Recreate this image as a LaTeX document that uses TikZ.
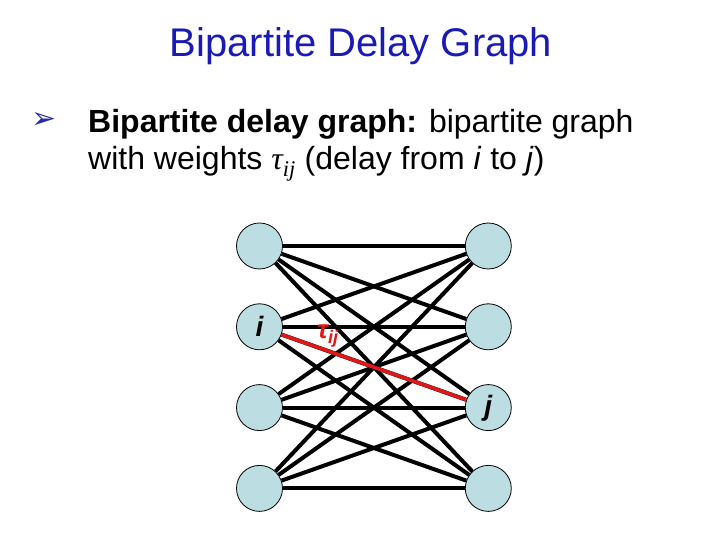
\documentclass[tikz,border=0pt]{standalone}
\usepackage{fontspec}
\setmainfont{Liberation Sans}
\newfontfamily\dingfont{DejaVu Sans}
\newfontfamily\greekfont{Liberation Serif}
\usepackage{tikz}
\usetikzlibrary{positioning}
\definecolor{titleblue}{HTML}{1A1AB4}
\definecolor{bulletblue}{HTML}{2A2AA8}
\definecolor{vertexfill}{HTML}{BCDEE3}
\definecolor{delayred}{HTML}{E01818}
\tikzset{
  vertex/.style={
    circle,
    draw=black,
    fill=vertexfill,
    line width=0.8pt,
    minimum size=46pt,
    inner sep=0pt,
    font=\fontsize{28}{30}\selectfont\bfseries\itshape
  },
  edgeline/.style={line width=4pt, draw=black},
  delayedge/.style={line width=3.6pt, draw=delayred},
  titletext/.style={font=\fontsize{40}{44}\selectfont, text=titleblue, anchor=base},
  bodytext/.style={font=\fontsize{32}{38}\selectfont, anchor=base west, inner sep=0pt}
}

\begin{document}
\begin{tikzpicture}[x=1pt, y=1pt, node distance=34pt and 182pt]
\useasboundingbox (0,0) rectangle (720,540);

\node[titletext] (title) at (361,483) {Bipartite Delay Graph};
\node[font=\dingfont\fontsize{30}{30}\selectfont, text=bulletblue, inner sep=0pt] (bullet) at (44,419) {➢};
\node[bodytext] (line1) at (88,407) {\textbf{Bipartite delay graph:} bipartite graph};
\node[bodytext] (line2) at (88,370) {with weights {\greekfont\itshape τ\textsubscript{ij}} (delay from \textit{i} to \textit{j})};

% left and right columns
\node[vertex] (l1) at (259.5,294) {};
\node[vertex, below=of l1] (l2) {i};
\node[vertex, below=of l2] (l3) {};
\node[vertex, below=of l3] (l4) {};
\node[vertex, right=of l1] (r1) {};
\node[vertex, right=of l2] (r2) {};
\node[vertex, right=of l3, text depth=4pt] (r3) {j};
\node[vertex, right=of l4] (r4) {};

\foreach \a in {1,...,4}
  \foreach \b in {1,...,4}
    \draw[edgeline] (l\a) -- (r\b);
\draw[delayedge] (l2) -- (r3);
\node[text=delayred, font=\fontsize{26}{28}\selectfont\bfseries\itshape] (tau) at (328,204) {τ\textsubscript{ij}};
\end{tikzpicture}
\end{document}
